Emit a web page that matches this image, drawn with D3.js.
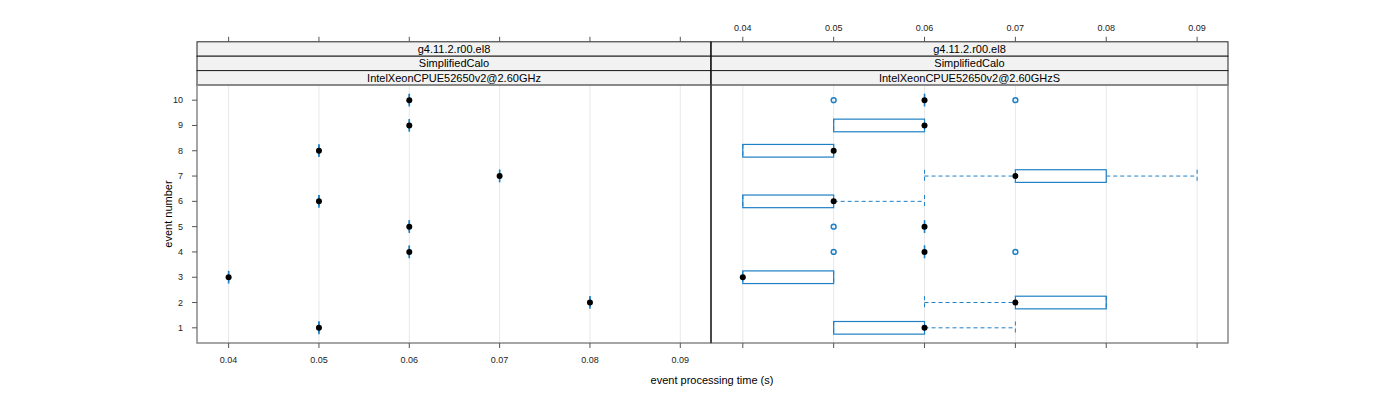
<!DOCTYPE html>
<html>
<head>
<meta charset="utf-8">
<script src="https://cdn.jsdelivr.net/npm/d3@7"></script>
<style>
  body { margin: 0; background: #fff; }
  text { font-family: "Liberation Sans", Arial, sans-serif; fill: #000; }
  .tick-label { font-size: 9px; fill: #222; }
</style>
</head>
<body>
<div id="vis_container"></div>
<script>
// event numbers on the y axis
var events = [1, 2, 3, 4, 5, 6, 7, 8, 9, 10];
var xTicks = [0.04, 0.05, 0.06, 0.07, 0.08, 0.09];

// strip labels, one list per panel
var stripsLeft = ["g4.11.2.r00.el8", "SimplifiedCalo", "IntelXeonCPUE52650v2@2.60GHz"];
var stripsRight = ["g4.11.2.r00.el8", "SimplifiedCalo", "IntelXeonCPUE52650v2@2.60GHzS"];

// left panel: single value per event
var leftValue = [0.05, 0.08, 0.04, 0.06, 0.06, 0.05, 0.07, 0.05, 0.06, 0.06];

// right panel: box stats per event
var rightLo  = [0.05, 0.06, 0.04, 0.06, 0.06, 0.04, 0.06, 0.04, 0.05, 0.06];
var rightQ1  = [0.05, 0.07, 0.04, 0.06, 0.06, 0.04, 0.07, 0.04, 0.05, 0.06];
var rightMed = [0.06, 0.07, 0.04, 0.06, 0.06, 0.05, 0.07, 0.05, 0.06, 0.06];
var rightQ3  = [0.06, 0.08, 0.05, 0.06, 0.06, 0.05, 0.08, 0.05, 0.06, 0.06];
var rightHi  = [0.07, 0.08, 0.05, 0.06, 0.06, 0.06, 0.09, 0.05, 0.06, 0.06];
var rightOut = [[], [], [], [0.05, 0.07], [0.05], [], [], [], [], [0.05, 0.07]];

var width = 1400, height = 400;
var pTop = 85, pBottom = 343, stripH = 14.4;
var boxCol = "#1f80c6";

var svg = d3.select("#vis_container").append("svg")
    .attr("width", width).attr("height", height);

var y = d3.scaleLinear().domain([0.4, 10.6]).range([pBottom, pTop]);

var panels = [
  { x0: 197, x1: 711, strips: stripsLeft,
    stats: events.map(function(e, i) {
      var v = leftValue[i];
      return { ev: e, lo: v, q1: v, med: v, q3: v, hi: v, out: [] };
    }),
    topLabels: false, bottomLabels: true },
  { x0: 711, x1: 1228, strips: stripsRight,
    stats: events.map(function(e, i) {
      return { ev: e, lo: rightLo[i], q1: rightQ1[i], med: rightMed[i], q3: rightQ3[i], hi: rightHi[i], out: rightOut[i] };
    }),
    topLabels: true, bottomLabels: false }
];

panels.forEach(function(p) {
  var x = d3.scaleLinear().domain([0.0365, 0.0934]).range([p.x0, p.x1]);
  var g = svg.append("g");

  // grid lines
  g.selectAll(".grid").data(xTicks).enter().append("line")
      .attr("x1", function(d) { return x(d); }).attr("x2", function(d) { return x(d); })
      .attr("y1", pTop).attr("y2", pBottom)
      .style("stroke", "#e8e8e8").style("stroke-width", 1);

  // strips
  p.strips.forEach(function(s, si) {
    var sy = pTop - (3 - si) * stripH;
    g.append("rect")
        .attr("x", p.x0).attr("y", sy).attr("width", p.x1 - p.x0).attr("height", stripH)
        .style("fill", "#f2f2f2").style("stroke", "#222").style("stroke-width", 1);
    g.append("text")
        .attr("x", (p.x0 + p.x1) / 2).attr("y", sy + stripH / 2 + 4)
        .attr("text-anchor", "middle").style("font-size", "11px")
        .text(s);
  });

  var hh = (y(0) - y(1)) * 0.25;

  p.stats.forEach(function(d) {
    var cy = y(d.ev);
    // whiskers
    [[d.lo, d.q1], [d.q3, d.hi]].forEach(function(w) {
      if (w[0] === w[1]) return;
      g.append("line")
          .attr("x1", x(w[0])).attr("x2", x(w[1])).attr("y1", cy).attr("y2", cy)
          .style("stroke", boxCol).style("stroke-dasharray", "4,3").style("stroke-width", 1);
    });
    [d.lo, d.hi].forEach(function(v) {
      g.append("line")
          .attr("x1", x(v)).attr("x2", x(v)).attr("y1", cy - hh).attr("y2", cy + hh)
          .style("stroke", boxCol).style("stroke-dasharray", "4,3").style("stroke-width", 1);
    });
    g.append("rect")
        .attr("x", x(d.q1)).attr("y", cy - hh)
        .attr("width", x(d.q3) - x(d.q1)).attr("height", 2 * hh)
        .style("fill", "none").style("stroke", boxCol).style("stroke-width", 1.2);
    if (d.q1 === d.q3) {
      g.append("line")
          .attr("x1", x(d.q1)).attr("x2", x(d.q1)).attr("y1", cy - hh).attr("y2", cy + hh)
          .style("stroke", boxCol).style("stroke-width", 1.6);
    }
    d.out.forEach(function(o) {
      g.append("circle")
          .attr("cx", x(o)).attr("cy", cy).attr("r", 2.4)
          .style("fill", "none").style("stroke", boxCol).style("stroke-width", 1.5);
    });
    g.append("circle")
        .attr("cx", x(d.med)).attr("cy", cy).attr("r", 3)
        .style("fill", "#000");
  });

  // panel border
  g.append("rect")
      .attr("x", p.x0).attr("y", pTop).attr("width", p.x1 - p.x0).attr("height", pBottom - pTop)
      .style("fill", "none").style("stroke", "#888").style("stroke-width", 1.5);

  // x ticks top and bottom
  var topY = pTop - 3 * stripH;
  g.selectAll(".ttick").data(xTicks).enter().append("line")
      .attr("x1", function(d) { return x(d); }).attr("x2", function(d) { return x(d); })
      .attr("y1", topY - 5).attr("y2", topY)
      .style("stroke", "#555");
  g.selectAll(".btick").data(xTicks).enter().append("line")
      .attr("x1", function(d) { return x(d); }).attr("x2", function(d) { return x(d); })
      .attr("y1", pBottom).attr("y2", pBottom + 5)
      .style("stroke", "#555");
  if (p.topLabels) {
    g.selectAll(".tlab").data(xTicks).enter().append("text")
        .attr("class", "tick-label")
        .attr("x", function(d) { return x(d); }).attr("y", topY - 11)
        .attr("text-anchor", "middle")
        .text(function(d) { return d3.format(".2f")(d); });
  }
  if (p.bottomLabels) {
    g.selectAll(".blab").data(xTicks).enter().append("text")
        .attr("class", "tick-label")
        .attr("x", function(d) { return x(d); }).attr("y", pBottom + 20)
        .attr("text-anchor", "middle")
        .text(function(d) { return d3.format(".2f")(d); });
  }
});

// black divider between the panels
svg.append("line")
    .attr("x1", 711).attr("x2", 711).attr("y1", pTop - 3 * stripH).attr("y2", pBottom)
    .style("stroke", "#000").style("stroke-width", 1);

// y axis
svg.selectAll(".ytick").data(events).enter().append("line")
    .attr("x1", 192).attr("x2", 197)
    .attr("y1", function(d) { return y(d); }).attr("y2", function(d) { return y(d); })
    .style("stroke", "#555");
svg.selectAll(".ylab").data(events).enter().append("text")
    .attr("class", "tick-label")
    .attr("x", 183).attr("y", function(d) { return y(d) + 3; })
    .attr("text-anchor", "end")
    .text(function(d) { return d; });

svg.append("text")
    .attr("transform", "translate(172," + ((pTop + pBottom) / 2) + ") rotate(-90)")
    .attr("text-anchor", "middle").style("font-size", "11px")
    .text("event number");

svg.append("text")
    .attr("x", 712).attr("y", 384)
    .attr("text-anchor", "middle").style("font-size", "11px")
    .text("event processing time (s)");
</script>
</body>
</html>
